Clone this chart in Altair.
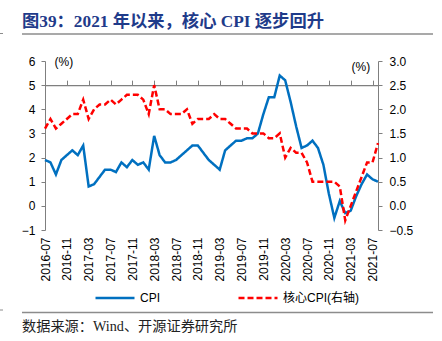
import json
import altair as alt
import pandas as pd

# ---------------- data ----------------
months = [
    "2016-06", "2016-07", "2016-08", "2016-09", "2016-10", "2016-11", "2016-12",
    "2017-01", "2017-02", "2017-03", "2017-04", "2017-05", "2017-06",
    "2017-07", "2017-08", "2017-09", "2017-10", "2017-11", "2017-12",
    "2018-01", "2018-02", "2018-03", "2018-04", "2018-05", "2018-06",
    "2018-07", "2018-08", "2018-09", "2018-10", "2018-11", "2018-12",
    "2019-01", "2019-02", "2019-03", "2019-04", "2019-05", "2019-06",
    "2019-07", "2019-08", "2019-09", "2019-10", "2019-11", "2019-12",
    "2020-01", "2020-02", "2020-03", "2020-04", "2020-05", "2020-06",
    "2020-07", "2020-08", "2020-09", "2020-10", "2020-11", "2020-12",
    "2021-01", "2021-02", "2021-03", "2021-04", "2021-05", "2021-06", "2021-07",
]
cpi = [
    1.9, 1.8, 1.3, 1.9, 2.1, 2.3, 2.1,
    2.5, 0.8, 0.9, 1.2, 1.5, 1.5, 1.4, 1.8, 1.6, 1.9, 1.7, 1.8,
    1.5, 2.9, 2.1, 1.8, 1.8, 1.9, 2.1, 2.3, 2.5, 2.5, 2.2, 1.9,
    1.7, 1.5, 2.3, 2.5, 2.7, 2.7, 2.8, 2.8, 3.0, 3.8, 4.5, 4.5,
    5.4, 5.2, 4.3, 3.3, 2.4, 2.5, 2.7, 2.4, 1.7, 0.5, -0.5, 0.2,
    -0.3, -0.2, 0.4, 0.9, 1.3, 1.1, 1.0,
]
core = [
    1.6, 1.8, 1.6, 1.7, 1.8, 1.9, 1.9,
    2.2, 1.8, 2.0, 2.1, 2.1, 2.2, 2.1, 2.2, 2.3, 2.3, 2.3, 2.2,
    1.9, 2.5, 2.0, 2.0, 1.9, 1.9, 1.9, 2.0, 1.7, 1.8, 1.8, 1.8,
    1.9, 1.8, 1.8, 1.7, 1.6, 1.6, 1.6, 1.5, 1.5, 1.5, 1.4, 1.4,
    1.5, 1.0, 1.2, 1.1, 1.1, 0.9, 0.5, 0.5, 0.5, 0.5, 0.5, 0.4,
    -0.3, 0.0, 0.3, 0.6, 0.9, 0.9, 1.3,
]
tick_labels = [
    "2016-07", "2016-11", "2017-03", "2017-07", "2017-11", "2018-03",
    "2018-07", "2018-11", "2019-03", "2019-07", "2019-11", "2020-03",
    "2020-07", "2020-11", "2021-03", "2021-07",
]
left_ticks = [-1, 0, 1, 2, 3, 4, 5, 6]
right_ticks = [-0.5, 0.0, 0.5, 1.0, 1.5, 2.0, 2.5, 3.0]
series_names = ["CPI", "核心CPI(右轴)"]
title_text = "图39：2021 年以来，核心 CPI 逐步回升"
source_text = "数据来源：Wind、开源证券研究所"
unit_text = "(%)"

# ---------------- tables ----------------
idx = list(range(len(months)))
df_cpi = pd.DataFrame({"idx": idx, "month": months, "value": cpi, "series": series_names[0]})
df_core = pd.DataFrame({"idx": idx, "month": months, "value": core, "series": series_names[1]})

# ---------------- layout ----------------
W, H = 333, 169
PL, PT = 45, 61
PR, PB = 442 - PL - W, 341 - PT - H

SANS = "Liberation Sans, Noto Sans CJK SC"
SERIF = "Liberation Serif, Noto Sans CJK SC"
AXIS_GRAY = "#7f7f7f"

tick_idx = [4 * k for k in range(len(tick_labels))]
label_expr = json.dumps(tick_labels) + "[round(datum.value / 4)]"
x_scale = alt.Scale(domain=[0, len(months) - 1], nice=False, zero=False)

x_labels = alt.X(
    "idx:Q", scale=x_scale,
    axis=alt.Axis(values=tick_idx, labelExpr=label_expr, labelAngle=270,
                  domain=False, ticks=False, tickSize=0, grid=False,
                  labelPadding=7, labelFontSize=12, labelFont=SANS,
                  labelColor="#000000", title=None),
)
x_zero = alt.X(
    "idx:Q", scale=x_scale,
    axis=alt.Axis(values=tick_idx, labels=False, domain=True, ticks=True,
                  tickSize=5, grid=False, offset=-H / 7,
                  domainColor=AXIS_GRAY, tickColor=AXIS_GRAY, domainWidth=1.2,
                  title=None),
)

left_axis = alt.Axis(
    orient="left", values=left_ticks, grid=False, tickSize=4, labelPadding=6,
    domainColor=AXIS_GRAY, tickColor=AXIS_GRAY, labelColor="#000000",
    labelFontSize=12, labelFont=SANS,
    title=unit_text, titleAngle=0, titleX=9, titleY=0, titleAlign="left",
    titleBaseline="middle", titleFontWeight="normal", titleFontSize=12,
    titleFont=SANS, titleColor="#000000",
)
right_axis = alt.Axis(
    orient="right", values=right_ticks, format=".1f", grid=False, tickSize=4,
    labelPadding=7, domainColor=AXIS_GRAY, tickColor=AXIS_GRAY,
    labelColor="#000000", labelFontSize=12, labelFont=SANS,
    title=unit_text, titleAngle=0, titleX=-27, titleY=5, titleAlign="left",
    titleBaseline="middle", titleFontWeight="normal", titleFontSize=12,
    titleFont=SANS, titleColor="#000000",
)

color_scale = alt.Scale(domain=series_names, range=["#0070C0", "#FF0000"])
dash_scale = alt.Scale(domain=series_names, range=[[1, 0], [6, 3]])
legend = alt.Legend(
    orient="none", legendX=49, legendY=216, direction="horizontal", title=None,
    symbolType="stroke", symbolSize=1521, symbolStrokeWidth=2.5,
    labelFontSize=12, labelFont=SANS, labelColor="#000000", labelOffset=4,
    columnPadding=72, padding=0,
)

cpi_line = alt.Chart(df_cpi).mark_line(strokeWidth=2.5).encode(
    x=x_labels,
    y=alt.Y("value:Q", scale=alt.Scale(domain=[-1, 6], nice=False, zero=False), axis=left_axis),
    color=alt.Color("series:N", scale=color_scale, legend=legend),
    strokeDash=alt.StrokeDash("series:N", scale=dash_scale, legend=legend),
)
core_line = alt.Chart(df_core).mark_line(strokeWidth=2.5).encode(
    x=x_zero,
    y=alt.Y("value:Q", scale=alt.Scale(domain=[-0.5, 3.0], nice=False, zero=False), axis=right_axis),
    color=alt.Color("series:N", scale=color_scale, legend=legend),
    strokeDash=alt.StrokeDash("series:N", scale=dash_scale, legend=legend),
)

one = pd.DataFrame({"k": [0]})
title_mark = alt.Chart(pd.DataFrame({"t": [title_text]})).mark_text(
    align="left", baseline="middle", font=SERIF, fontSize=17.3, fontWeight="bold",
    color="#1F3B8A",
).encode(x=alt.value(22 - PL), y=alt.value(22 - PT), text="t:N")
source_mark = alt.Chart(pd.DataFrame({"t": [source_text]})).mark_text(
    align="left", baseline="middle", font=SERIF, fontSize=14.2, color="#222222",
).encode(x=alt.value(22 - PL), y=alt.value(327 - PT), text="t:N")
top_rule = alt.Chart(one).mark_rule(color="#8c8c8c", strokeWidth=1.5).encode(
    x=alt.value(22 - PL), x2=alt.value(433 - PL), y=alt.value(34 - PT))
bottom_rule = alt.Chart(one).mark_rule(color="#8c8c8c", strokeWidth=1.5).encode(
    x=alt.value(22 - PL), x2=alt.value(433 - PL), y=alt.value(312.5 - PT))
edge_top = alt.Chart(one).mark_rule(color="#8c8c8c", strokeWidth=1).encode(
    x=alt.value(0 - PL), x2=alt.value(3 - PL), y=alt.value(33.5 - PT))
edge_bottom = alt.Chart(one).mark_rule(color="#8c8c8c", strokeWidth=1).encode(
    x=alt.value(0 - PL), x2=alt.value(3 - PL), y=alt.value(310 - PT))

chart = (
    alt.layer(cpi_line, core_line, title_mark, source_mark, top_rule, bottom_rule,
              edge_top, edge_bottom)
    .resolve_scale(y="independent")
    .resolve_axis(x="independent")
    .properties(width=W, height=H, autosize=alt.AutoSizeParams(type="none"),
                padding={"left": PL, "top": PT, "right": PR, "bottom": PB},
                background="white")
    .configure_view(stroke=None)
)

chart.save("out.html", embed_options={"renderer": "svg", "actions": False})
